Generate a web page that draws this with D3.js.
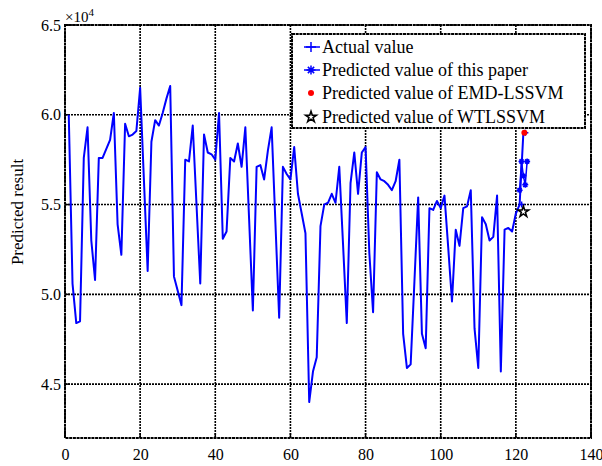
<!DOCTYPE html>
<html>
<head>
<meta charset="utf-8">
<script src="https://cdn.jsdelivr.net/npm/d3@7/dist/d3.min.js"></script>
<style>
  body { margin: 0; background: #fff; }
  svg text { font-family: "Liberation Serif", "DejaVu Serif", "Noto Serif", serif; fill: #000; }
</style>
</head>
<body>
<div id="chart"></div>
<script>
"use strict";

// values are in units of 10^4
const actualValues = [
  6.00, 5.06, 4.84, 4.85, 5.76, 5.93, 5.30, 5.08, 5.76, 5.76,
  5.81, 5.86, 6.01, 5.39, 5.22, 5.95, 5.88, 5.89, 5.91, 6.15,
  5.64, 5.13, 5.85, 5.97, 5.94, 6.01, 6.09, 6.16, 5.10, 5.02,
  4.94, 5.75, 5.74, 5.94, 5.50, 5.06, 5.89, 5.79, 5.78, 5.75,
  6.01, 5.31, 5.35, 5.76, 5.74, 5.84, 5.71, 5.93, 5.42, 4.91,
  5.71, 5.72, 5.64, 5.80, 5.93, 5.40, 4.87, 5.71, 5.67, 5.64,
  5.82, 5.56, 5.45, 5.34, 4.40, 4.57, 4.65, 5.38, 5.50, 5.51,
  5.56, 5.51, 5.71, 5.28, 4.84, 5.62, 5.79, 5.56, 5.79, 5.82,
  5.23, 4.90, 5.68, 5.64, 5.63, 5.61, 5.58, 5.63, 5.75, 4.78,
  4.59, 4.61, 5.07, 5.54, 4.78, 4.70, 5.48, 5.47, 5.52, 5.48,
  5.55, 5.26, 4.96, 5.36, 5.27, 5.48, 5.49, 5.58, 4.81, 4.59,
  5.43, 5.39, 5.30, 5.32, 5.55, 4.57, 5.36, 5.37, 5.35, 5.45,
  5.50, 5.90
];

// predicted points at the end of the series
const paperX = [121, 121.5, 122, 122.5, 123];
const paperValues = [5.58, 5.74, 5.66, 5.61, 5.74];
const emdX = [122];
const emdValues = [5.90];
const wtX = [122];
const wtValues = [5.46];

const xTicks = [0, 20, 40, 60, 80, 100, 120, 140];
const yTicks = [4.5, 5.0, 5.5, 6.0, 6.5];
const legendLabels = [
  "Actual value",
  "Predicted value of this paper",
  "Predicted value of EMD-LSSVM",
  "Predicted value of WTLSSVM"
];
const yLabel = "Predicted result";

const FONT = "'Liberation Serif', 'DejaVu Serif', serif";
const W = 602, H = 466;
const margin = {top: 25, right: 11, bottom: 28, left: 65};
const width = W - margin.left - margin.right;
const height = H - margin.top - margin.bottom;

const svg = d3.select("#chart").append("svg")
  .attr("width", W)
  .attr("height", H);

const g = svg.append("g")
  .attr("transform", "translate(" + margin.left + "," + margin.top + ")");

const x = d3.scaleLinear().domain([0, 140]).range([0, width]);
const y = d3.scaleLinear().domain([4.2, 6.5]).range([height, 0]);

// dotted grid
const dotted = "2,1";
g.append("g").selectAll("line")
  .data(xTicks)
  .join("line")
  .attr("x1", d => x(d)).attr("x2", d => x(d))
  .attr("y1", 0).attr("y2", height)
  .attr("stroke", "#000").attr("stroke-width", 1.6)
  .attr("stroke-dasharray", dotted);

g.append("g").selectAll("line")
  .data(yTicks)
  .join("line")
  .attr("x1", 0).attr("x2", width)
  .attr("y1", d => y(d)).attr("y2", d => y(d))
  .attr("stroke", "#000").attr("stroke-width", 1.6)
  .attr("stroke-dasharray", dotted);

// axes (labels only, the grid carries the lines)
const xAxis = g.append("g")
  .attr("transform", "translate(0," + height + ")")
  .call(d3.axisBottom(x).tickValues(xTicks).tickSize(0).tickPadding(11));
const yAxis = g.append("g")
  .call(d3.axisLeft(y).tickValues(yTicks).tickSize(0).tickPadding(4)
    .tickFormat(d3.format(".1f")));
[xAxis, yAxis].forEach(a => {
  a.attr("font-family", FONT).attr("font-size", 16);
  a.selectAll("text").style("font-family", FONT).style("font-size", "16px");
  a.select(".domain").remove();
});

// little inward ticks
g.append("g").selectAll("line")
  .data(yTicks)
  .join("line")
  .attr("x1", 0).attr("x2", 5)
  .attr("y1", d => y(d)).attr("y2", d => y(d))
  .attr("stroke", "#000").attr("stroke-width", 1.5);
g.append("g").selectAll("line")
  .data(xTicks)
  .join("line")
  .attr("x1", d => x(d)).attr("x2", d => x(d))
  .attr("y1", height).attr("y2", height - 5)
  .attr("stroke", "#000").attr("stroke-width", 1.5);

// frame
g.append("rect")
  .attr("width", width).attr("height", height)
  .attr("fill", "none")
  .attr("stroke", "#000").attr("stroke-width", 2)
  .attr("stroke-dasharray", "3,0.7");

// actual value line
const line = d3.line()
  .x(d => x(d[0]))
  .y(d => y(d[1]));

const actualData = actualValues.map((v, i) => [i + 1, v]);
g.append("path")
  .datum(actualData)
  .attr("fill", "none")
  .attr("stroke", "#0000ff")
  .attr("stroke-width", 2)
  .attr("stroke-linejoin", "round")
  .attr("d", line);

// predicted value of this paper: line with asterisks
const paperData = paperX.map((v, i) => [v, paperValues[i]]);
g.append("path")
  .datum(paperData)
  .attr("fill", "none")
  .attr("stroke", "#0000ff")
  .attr("stroke-width", 1.5)
  .attr("d", line);

function asterisk(sel, cx, cy, r, color) {
  const a = sel.append("g").attr("transform", "translate(" + cx + "," + cy + ")");
  a.append("path")
    .attr("d", "M" + -r + ",0H" + r + "M0," + -r + "V" + r +
      "M" + -r * 0.7 + "," + -r * 0.7 + "L" + r * 0.7 + "," + r * 0.7 +
      "M" + -r * 0.7 + "," + r * 0.7 + "L" + r * 0.7 + "," + -r * 0.7)
    .attr("stroke", color).attr("stroke-width", 1.5).attr("fill", "none");
}
function plus(sel, cx, cy, r, color) {
  sel.append("path")
    .attr("d", "M" + (cx - r) + "," + cy + "H" + (cx + r) + "M" + cx + "," + (cy - r) + "V" + (cy + r))
    .attr("stroke", color).attr("stroke-width", 1.5).attr("fill", "none");
}

paperData.forEach(d => asterisk(g, x(d[0]), y(d[1]), 3, "#0000ff"));
actualData.slice(-2).forEach(d => plus(g, x(d[0]) + 2, y(d[1]), 3, "#0000ff"));

// EMD-LSSVM: red dot
g.selectAll("circle.emd")
  .data(emdX.map((v, i) => [v, emdValues[i]]))
  .join("circle")
  .attr("cx", d => x(d[0]) + 1).attr("cy", d => y(d[1]))
  .attr("r", 3).attr("fill", "#ff0000");

// WTLSSVM: black pentagram
const star = d3.symbol().type(d3.symbolStar).size(36);
g.selectAll("path.wt")
  .data(wtX.map((v, i) => [v, wtValues[i]]))
  .join("path")
  .attr("transform", d => "translate(" + x(d[0]) + "," + y(d[1]) + ")")
  .attr("d", star)
  .attr("fill", "none").attr("stroke", "#000").attr("stroke-width", 1.6);

// legend
const lg = svg.append("g").attr("transform", "translate(292,34)");
lg.append("rect")
  .attr("width", 293).attr("height", 94)
  .attr("fill", "#fff")
  .attr("stroke", "#000").attr("stroke-width", 2)
  .attr("stroke-dasharray", "3,0.7");
const rowY = [13, 36, 59, 83];
legendLabels.forEach((t, i) => {
  const ry = rowY[i];
  if (i < 2) {
    lg.append("line").attr("x1", 12).attr("x2", 28).attr("y1", ry).attr("y2", ry)
      .attr("stroke", "#0000ff").attr("stroke-width", 1.5);
  }
  if (i === 0) plus(lg, 19, ry, 5, "#0000ff");
  if (i === 1) asterisk(lg, 19, ry, 4.5, "#0000ff");
  if (i === 2) lg.append("circle").attr("cx", 19).attr("cy", ry).attr("r", 3).attr("fill", "#ff0000");
  if (i === 3) lg.append("path").attr("transform", "translate(19," + ry + ")").attr("d", star)
    .attr("fill", "none").attr("stroke", "#000").attr("stroke-width", 1.6);
  lg.append("text")
    .attr("x", 30).attr("y", ry + 6)
    .attr("font-family", FONT)
    .attr("font-size", 18)
    .text(t);
});

// exponent note
const ex = svg.append("text").attr("x", 65).attr("y", 22)
  .attr("font-family", FONT).attr("font-size", 15);
ex.append("tspan").text("\u00d710");
ex.append("tspan").attr("dy", -6).attr("font-size", 11).text("4");

// y axis title
svg.append("text")
  .attr("transform", "translate(23,212) rotate(-90)")
  .attr("text-anchor", "middle")
  .attr("font-family", FONT)
  .attr("font-size", 17)
  .text(yLabel);
</script>
</body>
</html>
